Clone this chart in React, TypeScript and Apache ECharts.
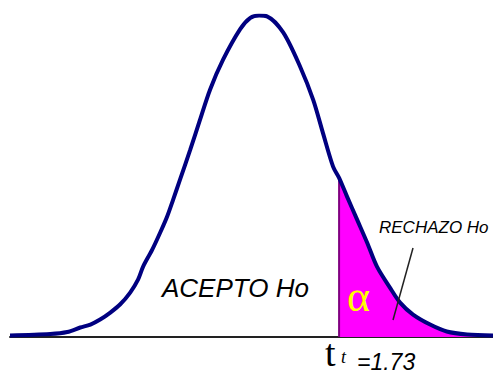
import React, { useEffect, useRef } from "react";
import * as echarts from "echarts";

// Curve points: t value and relative density
const curveT = [-5.39, -4.52, -4.15, -3.87, -3.65, -3.44, -3.22, -3.01, -2.79, -2.62, -2.51, -2.31, -2.14, -1.99, -1.86, -1.71, -1.49, -1.28, -1.06, -0.78, -0.41, -0.19, 0, 0.17, 0.52, 0.89, 1.17, 1.38, 1.6, 1.73, 1.9, 2.12, 2.34, 2.55, 2.83, 3.05, 3.33, 3.7, 4.06, 4.5, 5.06];
const curveY = [0.0019, 0.0037, 0.0062, 0.0118, 0.0155, 0.0217, 0.0304, 0.0404, 0.0553, 0.0714, 0.0876, 0.109, 0.13, 0.15, 0.171, 0.196, 0.233, 0.27, 0.308, 0.345, 0.383, 0.397, 0.4, 0.399, 0.379, 0.336, 0.295, 0.254, 0.212, 0.198, 0.175, 0.146, 0.117, 0.0876, 0.0615, 0.0428, 0.0279, 0.0155, 0.0068, 0.0031, 0.0019];
const criticalT = 1.73;
const acceptLabel = "ACEPTO Ho";
const rejectLabel = "RECHAZO Ho";
const alphaLabel = "α";
const criticalLabel = "=1.73";

export default function App() {
  const ref = useRef<HTMLDivElement>(null);
  useEffect(() => {
    if (!ref.current) return;
    const chart = echarts.init(ref.current, null, { renderer: "svg" });
    const curve = curveT.map((t, i) => [t, curveY[i]]);
    const critIdx = curveT.indexOf(criticalT);
    const tail = curve.slice(critIdx);
    const critY = curveY[critIdx];
    chart.setOption({
      animation: false,
      grid: { left: 10, right: 0, top: 15.5, bottom: 37 },
      xAxis: {
        type: "value",
        min: -5.39,
        max: 5.06,
        axisLine: { show: true, onZero: false, lineStyle: { color: "#222", width: 2 } },
        axisTick: { show: false },
        axisLabel: { show: false },
        splitLine: { show: false },
      },
      yAxis: {
        type: "value",
        min: 0,
        max: 0.4,
        show: false,
        splitLine: { show: false },
      },
      series: [
        {
          type: "line",
          data: tail,
          smooth: 0.3,
          symbol: "none",
          lineStyle: { width: 0 },
          areaStyle: { color: "#ff00ff", opacity: 1 },
          z: 1,
        },
        {
          type: "line",
          data: [[criticalT, 0], [criticalT, critY]],
          symbol: "none",
          lineStyle: { color: "#800080", width: 2 },
          z: 2,
        },
        {
          type: "line",
          data: curve,
          smooth: 0.3,
          symbol: "none",
          lineStyle: { color: "#000080", width: 4 },
          z: 3,
        },
      ],
      graphic: [
        {
          type: "text",
          left: 162,
          top: 275,
          style: { text: acceptLabel, font: "italic 26px 'Liberation Sans', Arial, sans-serif", fill: "#000" },
          z: 10,
        },
        {
          type: "text",
          left: 379,
          top: 219,
          style: { text: rejectLabel, font: "italic 17px 'Liberation Sans', Arial, sans-serif", fill: "#000" },
          z: 10,
        },
        {
          type: "line",
          shape: { x1: 413, y1: 248, x2: 393, y2: 320 },
          style: { stroke: "#222", lineWidth: 1.5 },
          z: 10,
        },
        {
          type: "text",
          left: 347,
          top: 274,
          style: { text: alphaLabel, font: "44px 'Liberation Serif', 'Times New Roman', serif", fill: "#ffff00" },
          z: 10,
        },
        {
          type: "text",
          x: 325,
          y: 368,
          style: {
            text: "t",
            fontSize: 38,
            fontFamily: "'Liberation Serif', 'Times New Roman', serif",
            verticalAlign: "bottom",
            lineHeight: 30,
            fill: "#000",
          },
          z: 10,
        },
        {
          type: "text",
          left: 341,
          top: 348,
          style: { text: "t", font: "italic 18px 'Liberation Serif', 'Times New Roman', serif", fill: "#000" },
          z: 10,
        },
        {
          type: "text",
          left: 357,
          top: 350,
          style: { text: criticalLabel, font: "italic 23px 'Liberation Sans', Arial, sans-serif", fill: "#000" },
          z: 10,
        },
      ],
    });
    return () => chart.dispose();
  }, []);
  return <div ref={ref} style={{ width: 493, height: 374, position: "absolute", left: 0, top: 0 }} />;
}
